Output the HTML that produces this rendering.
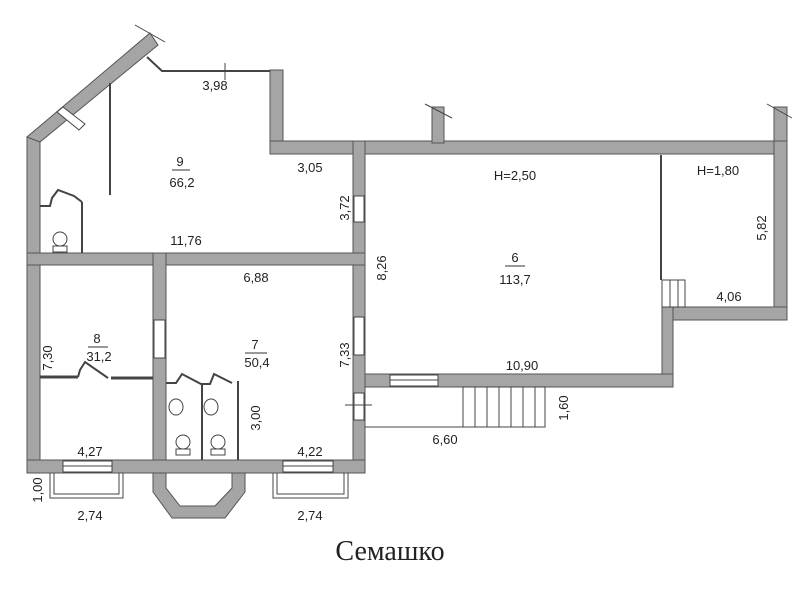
<!DOCTYPE html>
<html><head><meta charset="utf-8"><style>
html,body{margin:0;padding:0;background:#fff;}
svg{display:block}
text{font-family:"Liberation Sans",sans-serif;font-size:13px;fill:#222}
</style></head><body>
<svg width="800" height="600" viewBox="0 0 800 600" xmlns="http://www.w3.org/2000/svg">
<g fill="#a5a5a5" stroke="#555" stroke-width="1">
<rect x="27" y="137" width="13" height="336"/>
<polygon points="27,137 40,142 158,45 150,33"/>
<rect x="270" y="70" width="13" height="84"/>
<rect x="270" y="141" width="517" height="13"/>
<rect x="432" y="107" width="12" height="36"/>
<rect x="774" y="107" width="13" height="36"/>
<rect x="774" y="141" width="13" height="179"/>
<rect x="662" y="307" width="125" height="13"/>
<rect x="662" y="307" width="11" height="80"/>
<rect x="365" y="374" width="308" height="13"/>
<rect x="353" y="141" width="12" height="332"/>
<rect x="27" y="253" width="338" height="12"/>
<rect x="153" y="253" width="13" height="207"/>
<rect x="27" y="460" width="338" height="13"/>
<polygon points="153,473 166,473 166,488 180,506 215,506 232,488 232,473 245,473 245,492 225,518 172,518 153,492"/>
</g>
<g fill="#fff" stroke="#444" stroke-width="1">
<rect x="354" y="196" width="10" height="26"/>
<rect x="354" y="317" width="10" height="38"/>
<rect x="354" y="393" width="10" height="27"/>
<rect x="154" y="320" width="11" height="38"/>
<rect x="390" y="375" width="48" height="11"/>
<rect x="63" y="461" width="49" height="11"/>
<rect x="283" y="461" width="50" height="11"/>
<polygon points="57,112 63,107 85,124 79,130"/>
</g>
<g stroke="#444" stroke-width="1" fill="none">
<line x1="390" y1="380" x2="438" y2="380"/>
<line x1="63" y1="466" x2="112" y2="466"/>
<line x1="283" y1="466" x2="333" y2="466"/>
<polyline points="147,57 162,71 270,71" stroke-width="2"/>
<line x1="225" y1="63" x2="225" y2="80"/>
<line x1="135" y1="25" x2="165" y2="42"/>
<line x1="425" y1="104" x2="452" y2="118"/>
<line x1="767" y1="104" x2="792" y2="118"/>
<line x1="110" y1="83" x2="110" y2="195" stroke-width="2"/>
<line x1="661" y1="155" x2="661" y2="280" stroke-width="2"/>
<line x1="82" y1="202" x2="82" y2="253" stroke-width="2"/>
<polyline points="40,206 50,206 52,198 58,190 74,196 82,202" stroke-width="2"/>
<line x1="40" y1="377" x2="78" y2="377" stroke-width="3"/>
<polyline points="78,377 80,370 85,362 108,378" stroke-width="2"/>
<line x1="111" y1="378" x2="153" y2="378" stroke-width="3"/>
<line x1="202" y1="384" x2="202" y2="460" stroke-width="2"/>
<line x1="238" y1="381" x2="238" y2="460" stroke-width="2"/>
<polyline points="166,383 176,383 182,374 201,384 210,384 214,374 232,383" stroke-width="2"/>
<ellipse cx="176" cy="407" rx="7" ry="8"/>
<ellipse cx="211" cy="407" rx="7" ry="8"/>
<circle cx="183" cy="442" r="7"/>
<circle cx="218" cy="442" r="7"/>
<rect x="176" y="449" width="14" height="6"/>
<rect x="211" y="449" width="14" height="6"/>
<circle cx="60" cy="239" r="7"/>
<rect x="53" y="246" width="14" height="6"/>
<rect x="662" y="280" width="23" height="27"/>
<line x1="670" y1="280" x2="670" y2="307"/>
<line x1="678" y1="280" x2="678" y2="307"/>
<polyline points="365,427 545,427 545,387"/>
<rect x="463" y="387" width="82" height="40"/>
<line x1="475" y1="387" x2="475" y2="427"/><line x1="487" y1="387" x2="487" y2="427"/>
<line x1="499" y1="387" x2="499" y2="427"/><line x1="511" y1="387" x2="511" y2="427"/>
<line x1="523" y1="387" x2="523" y2="427"/><line x1="535" y1="387" x2="535" y2="427"/>
<line x1="345" y1="405" x2="372" y2="405"/>
<polyline points="50,473 50,498 123,498 123,473"/>
<polyline points="54,473 54,494 119,494 119,473"/>
<polyline points="273,473 273,498 348,498 348,473"/>
<polyline points="277,473 277,494 344,494 344,473"/>
</g>
<g text-anchor="middle">
<text x="215" y="90">3,98</text>
<text x="180" y="166">9</text>
<line x1="172" y1="170" x2="190" y2="170" stroke="#333"/>
<text x="182" y="187">66,2</text>
<text x="310" y="172">3,05</text>
<text x="186" y="245">11,76</text>
<text x="256" y="282">6,88</text>
<text x="515" y="180" font-size="14">H=2,50</text>
<text x="718" y="175" font-size="14">H=1,80</text>
<text x="515" y="262">6</text>
<line x1="505" y1="266" x2="525" y2="266" stroke="#333"/>
<text x="515" y="284">113,7</text>
<text x="729" y="301">4,06</text>
<text x="522" y="370">10,90</text>
<text x="97" y="343">8</text>
<line x1="88" y1="347" x2="108" y2="347" stroke="#333"/>
<text x="99" y="361">31,2</text>
<text x="255" y="349">7</text>
<line x1="245" y1="353" x2="267" y2="353" stroke="#333"/>
<text x="257" y="367">50,4</text>
<text x="90" y="456">4,27</text>
<text x="310" y="456">4,22</text>
<text x="90" y="520">2,74</text>
<text x="310" y="520">2,74</text>
<text x="445" y="444">6,60</text>
<text transform="translate(349,208) rotate(-90)">3,72</text>
<text transform="translate(386,268) rotate(-90)">8,26</text>
<text transform="translate(766,228) rotate(-90)">5,82</text>
<text transform="translate(52,358) rotate(-90)">7,30</text>
<text transform="translate(349,355) rotate(-90)">7,33</text>
<text transform="translate(260,418) rotate(-90)">3,00</text>
<text transform="translate(42,490) rotate(-90)">1,00</text>
<text transform="translate(568,408) rotate(-90)">1,60</text>
<text x="390" y="560" style="font-family:'Liberation Serif',serif;font-size:28px">Семашко</text>
</g>
</svg>
</body></html>
